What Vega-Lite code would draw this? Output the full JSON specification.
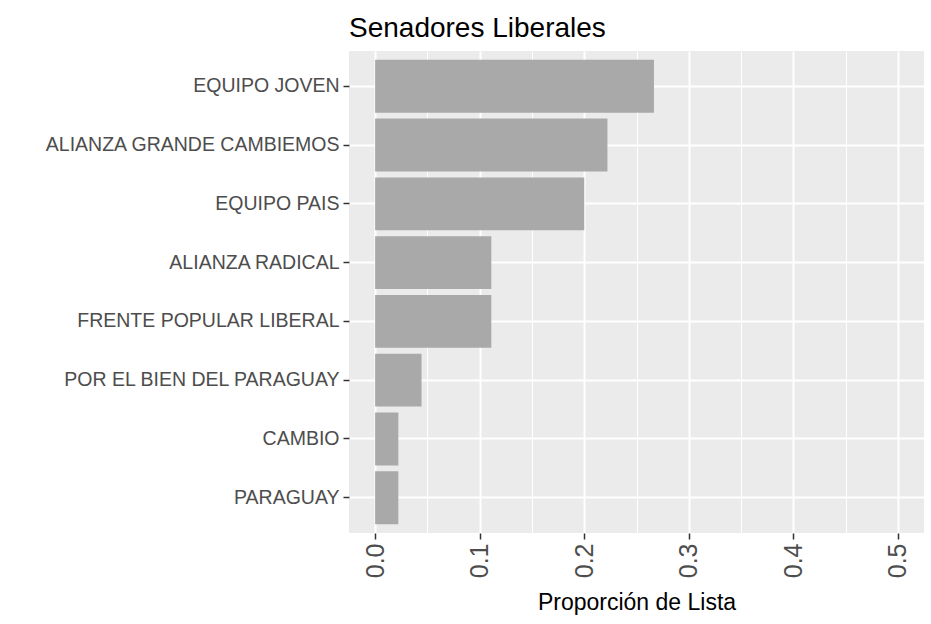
{
  "$schema": "https://vega.github.io/schema/vega-lite/v6.json",
  "width": 575,
  "height": 482,
  "autosize": {"type": "none"},
  "padding": {"left": 349, "top": 51, "right": 7, "bottom": 91},
  "background": "white",
  "title": {
    "text": "Senadores Liberales",
    "anchor": "start",
    "frame": "group",
    "fontSize": 28,
    "font": "Liberation Sans",
    "fontWeight": "normal",
    "color": "black",
    "offset": 8
  },
  "config": {
    "view": {"fill": "#EBEBEB", "stroke": null},
    "font": "Liberation Sans"
  },
  "data": {
    "values": [
      {"lista": "EQUIPO JOVEN", "proporcion": 0.2667},
      {"lista": "ALIANZA GRANDE CAMBIEMOS", "proporcion": 0.2222},
      {"lista": "EQUIPO PAIS", "proporcion": 0.2},
      {"lista": "ALIANZA RADICAL", "proporcion": 0.1111},
      {"lista": "FRENTE POPULAR LIBERAL", "proporcion": 0.1111},
      {"lista": "POR EL BIEN DEL PARAGUAY", "proporcion": 0.0444},
      {"lista": "CAMBIO", "proporcion": 0.0222},
      {"lista": "PARAGUAY", "proporcion": 0.0222}
    ]
  },
  "resolve": {"axis": {"x": "independent"}},
  "layer": [
    {
      "mark": {"type": "bar", "color": "#A9A9A9"},
      "encoding": {
        "y": {
          "field": "lista",
          "type": "nominal",
          "sort": ["EQUIPO JOVEN", "ALIANZA GRANDE CAMBIEMOS", "EQUIPO PAIS", "ALIANZA RADICAL", "FRENTE POPULAR LIBERAL", "POR EL BIEN DEL PARAGUAY", "CAMBIO", "PARAGUAY"],
          "scale": {"paddingInner": 0.1, "paddingOuter": 0.15},
          "axis": {
            "title": null,
            "domain": false,
            "labelFontSize": 19.5,
            "labelColor": "#4D4D4D",
            "labelPadding": 4,
            "labelLimit": 0,
            "tickColor": "#333333",
            "tickSize": 6,
            "tickWidth": 1.5,
            "grid": true,
            "gridColor": "white",
            "gridWidth": 2
          }
        },
        "x": {
          "field": "proporcion",
          "type": "quantitative",
          "scale": {"domain": [-0.025, 0.525], "nice": false, "zero": false},
          "axis": {
            "title": "Proporción de Lista",
            "values": [0, 0.1, 0.2, 0.3, 0.4, 0.5],
            "format": ".1f",
            "labelAngle": -90,
            "labelFontSize": 25,
            "labelColor": "#4D4D4D",
            "labelPadding": 4,
            "tickColor": "#333333",
            "tickSize": 6,
            "tickWidth": 1.5,
            "domain": false,
            "grid": true,
            "gridColor": "white",
            "gridWidth": 2,
            "titleFontSize": 23,
            "titleColor": "black",
            "titleFontWeight": "normal",
            "titlePadding": 14
          }
        },
        "x2": {"datum": 0}
      }
    },
    {
      "mark": {"type": "rule", "opacity": 0},
      "encoding": {
        "x": {
          "field": "proporcion",
          "type": "quantitative",
          "scale": {"domain": [-0.025, 0.525], "nice": false, "zero": false},
          "axis": {
            "orient": "top",
            "values": [0.05, 0.15, 0.25, 0.35, 0.45],
            "labels": false,
            "ticks": false,
            "domain": false,
            "title": null,
            "minExtent": 0,
            "maxExtent": 0,
            "grid": true,
            "gridColor": "white",
            "gridWidth": 1
          }
        }
      }
    }
  ]
}
